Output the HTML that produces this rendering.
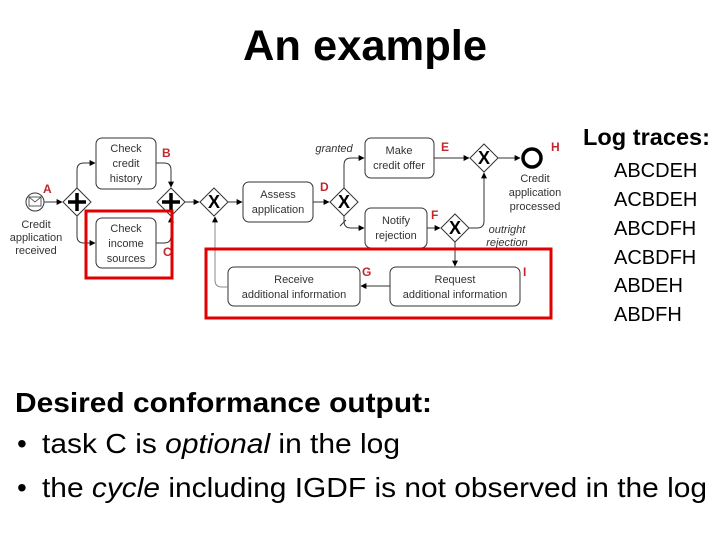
<!DOCTYPE html>
<html><head><meta charset="utf-8"><style>
html,body{margin:0;padding:0;background:#fff;}
svg{display:block;font-family:"Liberation Sans",Arial,sans-serif;}
</style></head><body>
<svg width="720" height="540" viewBox="0 0 720 540" xmlns="http://www.w3.org/2000/svg">
<defs>
<marker id="ar" viewBox="0 0 10 10" refX="9" refY="5" markerWidth="6" markerHeight="6" orient="auto"><path d="M0,0 L10,5 L0,10 z" fill="#000"/></marker>
</defs>
<text x="243" y="60" font-size="43" font-weight="bold" textLength="244" lengthAdjust="spacingAndGlyphs">An example</text>

<g stroke="#333" stroke-width="1" fill="none">
<circle cx="35" cy="202" r="9" fill="#fff"/>
<rect x="29" y="197" width="12" height="9" stroke-width="0.8"/>
<path d="M29,197 L35,202 L41,197" stroke-width="0.8"/>
<line x1="44" y1="202" x2="62" y2="202" marker-end="url(#ar)"/>
<path d="M77,188 L91,202 L77,216 L63,202 z" fill="#fff"/>
<path d="M77,193 V211 M68,202 H86" stroke="#000" stroke-width="3.5"/>
<path d="M77,188 V170 Q77,163 84,163 H95" marker-end="url(#ar)"/>
<path d="M77,216 V236 Q77,243 84,243 H95" marker-end="url(#ar)"/>
<rect x="96" y="138" width="60" height="51" rx="6" fill="#fff"/>
<rect x="96" y="218" width="60" height="50" rx="6" fill="#fff"/>
<path d="M156,163 H164 Q171,163 171,170 V187" marker-end="url(#ar)"/>
<path d="M156,243 H164 Q171,243 171,236 V217" marker-end="url(#ar)"/>
<path d="M171,188 L185,202 L171,216 L157,202 z" fill="#fff"/>
<path d="M171,193 V211 M162,202 H180" stroke="#000" stroke-width="3.5"/>
<line x1="185" y1="202" x2="199" y2="202" marker-end="url(#ar)"/>
<path d="M214,188 L228,202 L214,216 L200,202 z" fill="#fff"/>
<line x1="228" y1="202" x2="242" y2="202" marker-end="url(#ar)"/>
<rect x="243" y="182" width="70" height="40" rx="6" fill="#fff"/>
<line x1="313" y1="202" x2="329" y2="202" marker-end="url(#ar)"/>
<path d="M344,188 L358,202 L344,216 L330,202 z" fill="#fff"/>
<path d="M344,188 V165 Q344,158 351,158 H364" marker-end="url(#ar)"/>
<path d="M344,216 V221 Q344,228 351,228 H364" marker-end="url(#ar)"/>
<line x1="340" y1="226" x2="346" y2="220"/>
<rect x="365" y="138" width="69" height="40" rx="6" fill="#fff"/>
<rect x="365" y="208" width="62" height="40" rx="6" fill="#fff"/>
<line x1="434" y1="158" x2="469" y2="158" marker-end="url(#ar)"/>
<line x1="427" y1="228" x2="440" y2="228" marker-end="url(#ar)"/>
<path d="M455,214 L469,228 L455,242 L441,228 z" fill="#fff"/>
<path d="M469,228 H477 Q484,228 484,221 V173" marker-end="url(#ar)"/>
<path d="M484,144 L498,158 L484,172 L470,158 z" fill="#fff"/>
<line x1="498" y1="158" x2="520" y2="158" marker-end="url(#ar)"/>
<circle cx="532" cy="158" r="9" stroke="#000" stroke-width="3.5" fill="#fff"/>
<line x1="455" y1="242" x2="455" y2="266" marker-end="url(#ar)"/>
<rect x="390" y="267" width="130" height="39" rx="6" fill="#fff"/>
<line x1="390" y1="286" x2="361" y2="286" marker-end="url(#ar)"/>
<rect x="228" y="267" width="132" height="39" rx="6" fill="#fff"/>
<path d="M228,287 H222 Q215,287 215,280 V217" stroke="#888" marker-end="url(#ar)"/>
</g>
<g font-size="18" font-weight="bold" text-anchor="middle">
<text x="214" y="208">X</text>
<text x="344" y="208">X</text>
<text x="455" y="234">X</text>
<text x="484" y="164">X</text>
</g>
<g font-size="11" fill="#333" text-anchor="middle">
<text x="126" y="152">Check</text><text x="126" y="167">credit</text><text x="126" y="182">history</text>
<text x="126" y="232">Check</text><text x="126" y="247">income</text><text x="126" y="262">sources</text>
<text x="36" y="228">Credit</text><text x="36" y="241">application</text><text x="36" y="254">received</text>
<text x="278" y="198">Assess</text><text x="278" y="213">application</text>
<text x="399" y="154">Make</text><text x="399" y="169">credit offer</text>
<text x="396" y="224">Notify</text><text x="396" y="239">rejection</text>
<text x="294" y="283">Receive</text><text x="294" y="298">additional information</text>
<text x="455" y="283">Request</text><text x="455" y="298">additional information</text>
<text x="535" y="182">Credit</text><text x="535" y="196">application</text><text x="535" y="210">processed</text>
<text x="334" y="152" font-style="italic">granted</text>
<text x="507" y="233" font-style="italic">outright</text>
<text x="507" y="246" font-style="italic">rejection</text>
</g>
<g font-size="12" font-weight="bold" fill="#c0282d">
<text x="43" y="193">A</text><text x="162" y="157">B</text><text x="163" y="256">C</text>
<text x="320" y="191">D</text><text x="441" y="151">E</text><text x="431" y="219">F</text>
<text x="362" y="276">G</text><text x="551" y="151">H</text><text x="523" y="276">I</text>
</g>
<g fill="none" stroke="#e00000" stroke-width="3">
<rect x="86" y="211" width="86" height="67"/>
<rect x="206" y="249" width="345" height="69"/>
</g>

<text x="583" y="145" font-size="23" font-weight="bold" textLength="127" lengthAdjust="spacingAndGlyphs">Log traces:</text>
<g font-size="20">
<text x="614" y="177">ABCDEH</text>
<text x="614" y="206">ACBDEH</text>
<text x="614" y="235">ABCDFH</text>
<text x="614" y="264">ACBDFH</text>
<text x="614" y="292">ABDEH</text>
<text x="614" y="321">ABDFH</text>
</g>

<text x="15" y="412" font-size="28" font-weight="bold" textLength="417" lengthAdjust="spacingAndGlyphs">Desired conformance output:</text>
<g font-size="28">
<text x="17" y="453">•</text>
<text x="42" y="453" textLength="358" lengthAdjust="spacingAndGlyphs">task C is <tspan font-style="italic">optional</tspan> in the log</text>
<text x="17" y="497">•</text>
<text x="42" y="497" textLength="665" lengthAdjust="spacingAndGlyphs">the <tspan font-style="italic">cycle</tspan> including IGDF is not observed in the log</text>
</g>
</svg>
</body></html>
